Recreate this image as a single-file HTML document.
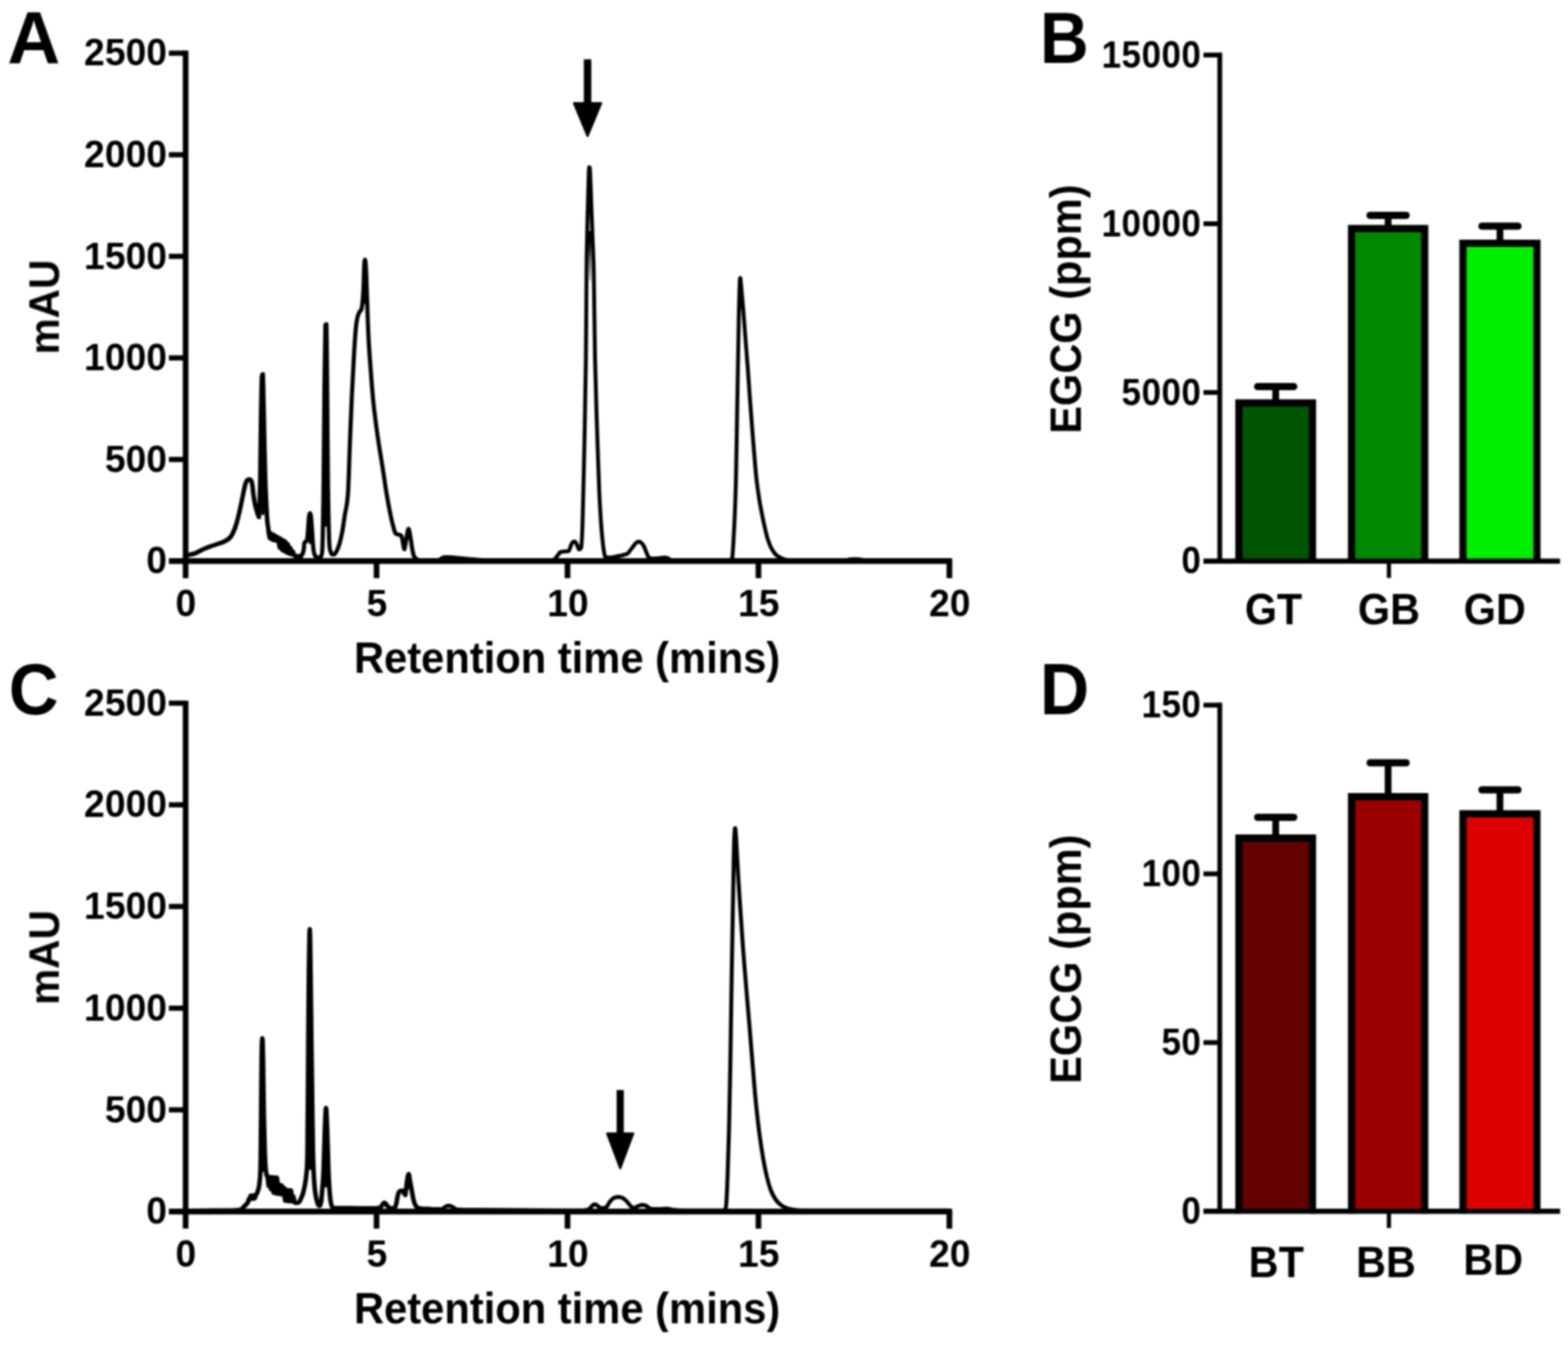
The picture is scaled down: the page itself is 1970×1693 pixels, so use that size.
<!DOCTYPE html>
<html lang="en">
<head>
<meta charset="utf-8">
<title>HPLC chromatograms and EGCG content</title>
<style>
html,body{margin:0;padding:0;background:#fff;}
body{width:1970px;height:1693px;overflow:hidden;}
svg{display:block;}
svg text{font-family:"Liberation Sans", Arial, Helvetica, sans-serif;font-weight:bold;fill:#000;}
</style>
</head>
<body>
<svg width="1970" height="1693" viewBox="0 0 1970 1693">
<defs>
<filter id="soft" x="0" y="0" width="1970" height="1693" filterUnits="userSpaceOnUse" color-interpolation-filters="sRGB">
<feGaussianBlur stdDeviation="1.0"/>
</filter>
</defs>
<rect width="1970" height="1693" fill="#fff"/>
<g filter="url(#soft)">
<g id="panel-A">
<path d="M234.0 697.5 C235.8 697.1 241.5 696.2 245.0 695.0 C248.5 693.8 251.2 691.7 255.0 690.0 C258.8 688.3 263.5 686.7 268.0 685.0 C272.5 683.3 278.3 681.8 282.0 680.0 C285.7 678.2 287.7 677.2 290.0 674.0 C292.3 670.8 294.2 666.3 296.0 661.0 C297.8 655.7 299.5 648.3 301.0 642.0 C302.5 635.7 303.8 628.5 305.0 623.0 C306.2 617.5 307.1 612.3 308.0 609.0 C308.9 605.7 309.6 604.2 310.5 603.0 C311.4 602.0 312.5 602.0 313.5 602.0 C314.5 602.5 315.7 602.7 316.5 606.0 C317.3 609.3 317.8 617.3 318.5 622.0 C319.2 626.7 319.8 630.5 320.5 634.0 C321.2 637.5 322.2 640.4 323.0 643.0 C323.8 645.6 324.6 649.5 325.3 649.5 C326.0 642.3 326.6 621.6 327.0 600.0 C327.4 578.4 327.6 541.2 328.0 520.0 C328.4 498.8 328.7 480.8 329.1 472.5 C329.5 470.0 329.8 470.0 330.2 470.0 C330.6 477.9 330.9 498.3 331.4 520.0 C331.9 541.7 332.5 578.3 333.2 600.0 C333.9 621.7 334.9 639.5 335.5 650.0 C336.1 660.5 336.7 660.0 337.0 663.0 C337.3 666.0 337.2 665.7 337.5 667.9 C337.8 670.1 338.5 675.7 339.0 676.0 C339.5 676.0 340.0 669.8 340.5 669.8 C341.0 670.1 341.6 677.6 342.1 677.9 C342.6 677.9 343.1 671.5 343.6 671.5 C344.1 671.6 344.6 678.3 345.1 678.6 C345.6 678.6 346.1 673.2 346.6 673.2 C347.1 673.3 347.7 679.0 348.2 679.3 C348.7 679.3 349.2 675.0 349.7 675.0 C350.2 676.4 350.7 687.3 351.2 687.6 C351.7 687.6 352.2 676.7 352.7 676.7 C353.2 677.2 353.8 690.4 354.3 690.7 C354.8 690.7 355.3 678.6 355.8 678.6 C356.3 678.9 356.8 692.1 357.3 692.4 C357.8 692.4 358.3 680.4 358.8 680.4 C359.3 680.6 359.9 693.4 360.4 693.9 C360.9 693.9 361.4 683.6 361.9 683.6 C362.4 683.8 362.9 694.4 363.4 695.1 C363.9 695.1 364.4 688.0 364.9 688.0 C365.4 688.2 366.0 695.5 366.5 696.2 C367.0 696.2 367.5 692.5 368.0 692.5 C368.5 692.7 368.8 696.2 369.5 697.2 C370.2 698.2 370.6 698.3 372.0 698.5 C373.4 698.5 377.0 698.5 378.0 698.5" fill="none" stroke="#000" stroke-width="5.6" stroke-linejoin="round" stroke-linecap="round"/>
<path d="M372.0 698.5 C373.0 698.5 376.4 698.5 378.0 698.5 C379.6 697.4 380.6 694.8 381.3 692.0 C382.1 689.2 381.8 683.7 382.5 681.5 C383.2 679.3 384.8 681.2 385.5 679.0 C386.2 676.8 386.3 673.2 386.8 668.0 C387.3 662.8 387.9 651.9 388.3 648.0 C388.8 644.5 389.1 644.5 389.5 644.5 C389.9 644.5 390.2 644.5 390.7 648.0 C391.1 651.9 391.7 661.0 392.2 668.0 C392.7 675.0 393.2 684.9 393.8 690.0 C394.4 695.1 395.1 696.8 396.0 698.5 C396.9 700.0 397.9 699.8 399.0 700.0 C400.1 700.0 401.5 700.0 402.5 700.0 C403.5 698.3 404.3 700.0 405.0 690.0 C405.7 673.3 406.2 635.0 406.6 600.0 C407.1 565.0 407.3 512.0 407.7 480.0 C408.1 448.0 408.4 420.2 408.8 408.0 C409.2 407.0 409.7 407.0 410.1 407.0 C410.5 419.0 410.7 447.8 411.0 480.0 C411.3 512.2 411.6 566.7 412.0 600.0 C412.4 633.3 413.0 664.3 413.6 680.0 C414.2 694.0 415.1 691.2 415.8 694.0 C416.5 696.5 417.2 696.2 418.0 696.5 C418.8 696.5 419.6 696.5 420.5 696.0 C421.4 695.1 422.5 693.2 423.5 691.0 C424.5 688.8 425.4 686.8 426.5 683.0 C427.6 679.2 428.9 674.0 430.0 668.0 C431.1 662.0 432.0 654.6 433.2 647.0 C434.4 639.4 435.9 637.0 437.0 622.5 C438.1 608.0 438.7 580.7 439.5 560.0 C440.3 539.3 441.2 516.8 442.0 498.5 C442.8 480.2 443.7 464.2 444.5 450.0 C445.3 435.8 446.2 421.5 447.0 413.0 C447.8 404.5 448.2 402.5 449.0 399.0 C449.8 395.5 450.6 394.0 451.5 392.0 C452.4 390.0 453.7 391.3 454.5 387.0 C455.3 382.7 456.0 374.3 456.5 366.0 C457.0 357.7 457.2 343.7 457.5 337.0 C457.8 330.3 458.1 326.0 458.5 326.0 C458.9 326.0 459.4 329.7 459.8 337.0 C460.2 344.3 460.5 355.5 461.0 370.0 C461.5 384.5 462.2 407.7 463.0 424.0 C463.8 440.3 465.0 454.3 466.0 468.0 C467.0 481.7 467.8 492.7 469.2 506.0 C470.6 519.3 472.6 534.7 474.5 548.0 C476.4 561.3 478.6 574.0 480.5 586.0 C482.4 598.0 484.0 609.8 485.7 620.0 C487.4 630.2 489.4 640.5 490.8 647.5 C492.2 654.5 493.3 658.2 494.3 662.0 C495.3 665.8 495.9 668.4 497.0 670.0 C498.1 671.5 499.8 670.9 501.0 671.5 C502.2 672.1 503.6 671.6 504.5 673.5 C505.4 675.4 505.9 680.2 506.5 683.0 C507.1 685.8 507.3 690.0 508.0 690.0 C508.7 689.0 509.6 681.3 510.5 677.0 C511.4 672.7 512.4 664.0 513.3 664.0 C514.2 664.0 515.2 672.7 516.0 677.0 C516.8 681.3 517.3 686.3 518.0 690.0 C518.7 693.7 519.3 696.9 520.3 699.0 C521.3 701.1 522.6 701.6 524.0 702.5 C525.4 703.4 525.8 704.0 528.5 704.3 C531.2 704.3 538.1 704.3 540.0 704.3" fill="none" stroke="#000" stroke-width="5.2" stroke-linejoin="round" stroke-linecap="round"/>
<path d="M528.5 704.3 C530.4 704.3 536.4 704.3 540.0 704.3 C543.6 704.3 547.8 704.3 550.0 704.3 C552.2 704.0 552.0 703.1 553.0 702.5 C554.0 701.9 554.7 701.0 556.0 700.5 C557.3 700.0 559.0 699.8 561.0 699.7 C563.0 699.7 564.8 699.7 568.0 700.0 C571.2 700.3 574.7 700.8 580.0 701.3 C585.3 701.8 593.3 702.5 600.0 703.0 C606.7 703.5 610.0 704.1 620.0 704.3 C630.0 704.3 648.0 704.3 660.0 704.3 C672.0 704.3 685.8 704.3 692.0 704.3 C697.0 703.9 695.5 703.2 697.0 702.0 C698.5 700.8 699.8 698.4 701.0 697.0 C702.2 695.6 702.7 694.2 704.0 693.5 C705.3 692.8 707.2 692.9 709.0 692.6 C710.8 692.4 713.1 692.6 714.5 692.0 C715.9 690.7 716.5 686.8 717.3 685.0 C718.1 683.2 718.6 681.8 719.5 681.0 C720.4 680.3 721.6 680.3 722.5 680.3 C723.4 680.9 724.2 682.9 725.0 684.5 C725.8 686.1 726.5 689.6 727.4 690.0 C728.3 690.0 729.6 690.0 730.3 687.0 C731.0 682.0 731.3 674.5 731.8 660.0 C732.3 645.5 732.8 620.0 733.3 600.0 C733.8 580.0 734.1 565.0 734.6 540.0 C735.1 515.0 735.7 482.8 736.1 450.0 C736.5 417.2 736.6 368.0 736.9 343.0 C737.1 318.0 737.3 315.5 737.6 300.0 C737.9 284.5 738.4 264.0 738.8 250.0 C739.2 236.0 739.5 222.7 739.8 216.0 C740.1 210.0 740.2 210.0 740.5 210.0 C740.8 210.0 741.0 210.0 741.4 216.0 C741.8 224.3 742.5 246.0 743.0 260.0 C743.5 274.0 744.0 286.2 744.5 300.0 C745.0 313.8 745.5 318.0 746.0 343.0 C746.5 368.0 747.0 420.5 747.6 450.0 C748.2 479.5 748.9 500.0 749.5 520.0 C750.1 540.0 750.6 553.3 751.2 570.0 C751.8 586.7 752.3 604.5 753.0 620.0 C753.7 635.5 754.8 651.8 755.6 663.0 C756.4 674.2 757.2 680.9 758.0 687.0 C758.8 693.1 759.2 697.3 760.5 699.5 C761.8 700.3 763.9 700.2 765.5 700.3 C767.1 700.3 767.8 700.2 770.0 699.8 C772.2 699.4 776.0 698.7 779.0 698.0 C782.0 697.3 785.9 696.6 788.0 695.5 C790.1 694.4 790.3 692.9 791.5 691.5 C792.7 690.1 793.8 688.6 795.0 687.0 C796.2 685.4 797.8 683.1 799.0 682.0 C800.2 680.9 801.3 680.3 802.5 680.3 C803.7 680.3 804.9 681.0 806.0 682.0 C807.1 683.0 808.0 684.1 809.0 686.0 C810.0 687.9 811.0 691.2 812.0 693.5 C813.0 695.8 813.7 698.7 815.0 700.0 C816.3 701.3 817.8 701.3 820.0 701.5 C822.2 701.5 825.5 701.2 828.0 701.0 C830.5 700.8 833.0 700.2 835.0 700.2 C837.0 700.3 838.2 700.8 840.0 701.5 C841.8 702.2 840.0 703.8 846.0 704.3 C852.7 704.3 869.0 704.3 880.0 704.3 C891.0 704.3 905.6 704.3 912.0 704.3 C918.3 704.1 916.9 703.7 918.3 703.0 C919.6 702.3 919.4 703.0 920.1 700.0 C920.9 692.0 922.0 671.1 922.8 655.0 C923.5 638.9 924.1 624.3 924.6 603.5 C925.1 582.7 925.5 553.6 925.9 530.0 C926.3 506.4 926.7 485.3 927.1 462.0 C927.5 438.7 928.0 408.0 928.4 390.0 C928.8 372.0 929.1 360.8 929.4 354.0 C929.7 349.0 929.8 349.0 930.1 349.0 C930.5 350.5 930.9 356.0 931.5 363.0 C932.1 370.0 933.1 380.3 934.0 391.0 C934.9 401.7 935.8 415.2 936.7 427.0 C937.6 438.8 938.6 450.2 939.5 462.0 C940.4 473.8 941.1 486.2 942.0 498.0 C942.9 509.8 943.7 520.7 944.6 532.5 C945.5 544.3 946.5 557.2 947.5 569.0 C948.5 580.8 949.5 593.3 950.6 603.5 C951.8 613.7 953.1 622.1 954.4 630.0 C955.7 637.9 957.2 645.0 958.4 651.0 C959.6 657.0 960.6 661.3 961.7 666.0 C962.8 670.7 963.9 675.1 965.2 679.0 C966.5 682.9 968.1 686.6 969.7 689.5 C971.3 692.4 972.9 694.7 974.7 696.5 C976.5 698.3 978.5 699.4 980.5 700.5 C982.5 701.6 983.8 702.4 987.0 703.0 C990.2 703.6 991.2 704.1 1000.0 704.3 C1008.8 704.3 1030.0 704.3 1040.0 704.3 C1050.0 704.2 1055.5 704.2 1060.0 704.0 C1064.5 703.8 1064.7 703.1 1067.0 702.8 C1069.3 702.5 1071.7 702.3 1074.0 702.3 C1076.3 702.3 1078.7 702.5 1081.0 702.8 C1083.3 703.1 1084.8 703.8 1088.0 704.0 C1091.2 704.2 1088.0 704.2 1100.0 704.3 C1117.3 704.3 1176.7 704.3 1192.0 704.3" fill="none" stroke="#000" stroke-width="4.9" stroke-linejoin="round" stroke-linecap="round"/>
<line x1="330.1" y1="476" x2="330.4" y2="645" stroke="#000" stroke-width="4" stroke-linecap="round"/>
<line x1="389.5" y1="648" x2="389.5" y2="682" stroke="#000" stroke-width="3" stroke-linecap="round"/>
<line x1="409.4" y1="411" x2="409.4" y2="660" stroke="#000" stroke-width="3" stroke-linecap="round"/>
<line x1="458.6" y1="330" x2="458.6" y2="380" stroke="#000" stroke-width="3" stroke-linecap="round"/>
<polygon points="739.6,290 742.6,290 741.6,352 741,352" fill="#000"/>
<line x1="233.2" y1="63.6" x2="233.2" y2="726.15" stroke="#000" stroke-width="7.1" stroke-linecap="butt"/>
<line x1="212.2" y1="704.65" x2="1196.25" y2="704.65" stroke="#000" stroke-width="7.1" stroke-linecap="butt"/>
<line x1="212.2" y1="577.08" x2="233.2" y2="577.08" stroke="#000" stroke-width="6.5" stroke-linecap="butt"/>
<line x1="212.2" y1="449.51" x2="233.2" y2="449.51" stroke="#000" stroke-width="6.5" stroke-linecap="butt"/>
<line x1="212.2" y1="321.94" x2="233.2" y2="321.94" stroke="#000" stroke-width="6.5" stroke-linecap="butt"/>
<line x1="212.2" y1="194.37" x2="233.2" y2="194.37" stroke="#000" stroke-width="6.5" stroke-linecap="butt"/>
<line x1="212.2" y1="66.8" x2="233.2" y2="66.8" stroke="#000" stroke-width="6.5" stroke-linecap="butt"/>
<line x1="473.1" y1="704.65" x2="473.1" y2="726.15" stroke="#000" stroke-width="7.1" stroke-linecap="butt"/>
<line x1="713" y1="704.65" x2="713" y2="726.15" stroke="#000" stroke-width="7.1" stroke-linecap="butt"/>
<line x1="952.9" y1="704.65" x2="952.9" y2="726.15" stroke="#000" stroke-width="7.1" stroke-linecap="butt"/>
<line x1="1192.8" y1="704.65" x2="1192.8" y2="726.15" stroke="#000" stroke-width="7.1" stroke-linecap="butt"/>
<text transform="translate(209.7 720.25) scale(1 1.035)" font-size="46.8" text-anchor="end">0</text>
<text transform="translate(209.7 592.68) scale(1 1.035)" font-size="46.8" text-anchor="end">500</text>
<text transform="translate(209.7 465.11) scale(1 1.035)" font-size="46.8" text-anchor="end">1000</text>
<text transform="translate(209.7 337.54) scale(1 1.035)" font-size="46.8" text-anchor="end">1500</text>
<text transform="translate(209.7 209.97) scale(1 1.035)" font-size="46.8" text-anchor="end">2000</text>
<text transform="translate(209.7 82.4) scale(1 1.035)" font-size="46.8" text-anchor="end">2500</text>
<text transform="translate(233.6 773.95) scale(1 1.035)" font-size="46.8" text-anchor="middle">0</text>
<text transform="translate(473.5 773.95) scale(1 1.035)" font-size="46.8" text-anchor="middle">5</text>
<text transform="translate(713.4 773.95) scale(1 1.035)" font-size="46.8" text-anchor="middle">10</text>
<text transform="translate(953.3 773.95) scale(1 1.035)" font-size="46.8" text-anchor="middle">15</text>
<text transform="translate(1193.2 773.95) scale(1 1.035)" font-size="46.8" text-anchor="middle">20</text>
<text transform="translate(712.5 844.65) scale(1 1.05)" font-size="52.4" text-anchor="middle">Retention time (mins)</text>
<text transform="translate(73.8 385.65) rotate(-90) scale(1 1.06)" font-size="51" text-anchor="middle">mAU</text>
<text transform="translate(9.2 79.2) scale(1.045 1.05)" font-size="88" text-anchor="start">A</text>
<rect x="733.5" y="74.5" width="9.4" height="57" fill="#000"/>
<path d="M720.95 129.5 H755.45 L738.2 171 Z" fill="#000" stroke="#000" stroke-width="2.4" stroke-linejoin="round"/>
</g>
<g id="panel-C">
<path d="M234.0 1520.8 C240.0 1520.7 259.7 1520.4 270.0 1520.3 C280.3 1520.2 290.5 1520.2 296.0 1520.0 C301.5 1519.8 301.3 1519.5 303.0 1518.8 C304.7 1518.1 305.0 1517.0 306.0 1516.0 C307.0 1515.0 308.1 1514.0 309.0 1513.0 C309.9 1512.0 310.9 1511.2 311.5 1510.0 C312.1 1508.8 312.3 1506.7 312.6 1506.0 C312.9 1505.8 313.1 1506.0 313.5 1505.8 C313.9 1505.1 314.6 1501.7 315.1 1501.7 C315.6 1501.7 316.2 1505.6 316.7 1505.6 C317.2 1505.5 317.8 1501.5 318.3 1501.4 C318.8 1501.4 319.4 1505.2 319.9 1505.2 C320.4 1505.1 320.9 1502.4 321.5 1501.0 C322.1 1499.6 322.9 1499.2 323.6 1497.0 C324.3 1494.8 325.2 1492.5 325.8 1488.0 C326.4 1483.5 326.9 1478.0 327.2 1470.0 C327.5 1462.0 327.5 1451.7 327.7 1440.0 C327.9 1428.3 327.9 1418.3 328.1 1400.0 C328.3 1381.7 328.4 1346.0 328.7 1330.0 C328.9 1314.0 329.3 1304.0 329.6 1304.0 C329.9 1304.0 330.2 1314.0 330.5 1330.0 C330.8 1346.0 331.1 1380.8 331.5 1400.0 C331.9 1419.2 332.2 1434.0 332.6 1445.0 C333.0 1456.0 333.2 1460.8 333.6 1466.0 C334.0 1471.2 334.6 1474.1 335.0 1476.0 C335.4 1477.5 335.8 1476.0 336.2 1477.5 C336.6 1479.8 337.2 1489.6 337.7 1489.7 C338.2 1489.7 338.6 1478.3 339.1 1478.3 C339.6 1478.9 340.1 1493.6 340.6 1493.6 C341.1 1493.6 341.6 1478.5 342.1 1478.5 C342.6 1479.2 343.0 1497.8 343.5 1497.8 C344.0 1497.8 344.5 1478.8 345.0 1478.8 C345.5 1479.0 346.0 1498.8 346.5 1498.8 C347.0 1498.8 347.5 1479.1 348.0 1479.1 C348.5 1479.2 348.9 1497.7 349.4 1499.2 C349.9 1499.2 350.4 1487.9 350.9 1487.9 C351.4 1488.0 351.9 1499.6 352.4 1499.7 C352.9 1499.7 353.3 1488.8 353.8 1488.8 C354.3 1488.9 354.8 1499.7 355.3 1500.2 C355.8 1500.2 356.3 1491.8 356.8 1491.8 C357.3 1493.1 357.7 1507.4 358.2 1507.9 C358.7 1507.9 359.2 1494.6 359.7 1494.6 C360.2 1494.7 360.7 1508.4 361.2 1508.4 C361.7 1508.4 362.2 1494.8 362.7 1494.8 C363.2 1494.8 363.6 1508.7 364.1 1508.7 C364.6 1508.7 365.1 1495.0 365.6 1495.0 C366.1 1495.0 366.6 1507.6 367.1 1508.9 C367.6 1508.9 368.0 1502.6 368.5 1502.6 C369.0 1502.7 369.4 1507.9 370.0 1509.3 C370.6 1510.7 371.1 1510.7 372.0 1510.8 C372.9 1510.8 374.4 1510.8 375.5 1510.0 C376.6 1508.9 377.8 1506.2 378.7 1504.0 C379.6 1501.8 380.3 1500.6 381.2 1497.0 C382.1 1493.4 383.2 1488.6 384.0 1482.6 C384.8 1476.6 385.6 1471.4 386.0 1461.0 C386.4 1450.6 386.4 1433.5 386.5 1420.0 C386.6 1406.5 386.8 1399.2 386.9 1380.0 C387.0 1360.8 387.2 1331.7 387.4 1305.0 C387.6 1278.3 387.8 1243.0 388.1 1220.0 C388.4 1197.0 388.9 1167.0 389.2 1167.0 C389.5 1167.0 389.9 1197.0 390.2 1220.0 C390.5 1243.0 390.9 1278.3 391.2 1305.0 C391.5 1331.7 391.9 1356.3 392.2 1380.0 C392.5 1403.7 392.8 1429.5 393.2 1447.0 C393.6 1464.5 394.2 1475.8 394.8 1485.0 C395.4 1494.2 395.9 1497.5 396.7 1502.0 C397.4 1506.5 398.5 1509.9 399.3 1512.0 C400.1 1514.1 400.9 1514.5 401.6 1514.5 C402.3 1513.8 403.0 1512.1 403.6 1508.0 C404.2 1503.9 404.7 1496.2 405.2 1490.0 C405.7 1483.8 406.0 1482.7 406.5 1471.0 C407.0 1459.3 407.6 1433.2 408.1 1420.0 C408.6 1406.8 409.1 1391.5 409.6 1391.5 C410.1 1391.5 410.6 1406.8 411.1 1420.0 C411.6 1433.2 412.2 1458.5 412.7 1471.0 C413.2 1483.5 413.5 1488.5 414.0 1495.0 C414.5 1501.5 415.0 1506.5 415.6 1510.0 C416.2 1513.5 416.6 1514.8 417.5 1516.0 C418.4 1517.2 419.5 1517.1 421.0 1517.3 C422.5 1517.3 421.7 1517.3 426.5 1517.3 C431.3 1517.3 442.8 1517.5 450.0 1517.5 C457.2 1517.5 465.5 1517.6 470.0 1517.6 C474.5 1517.5 475.4 1517.5 477.0 1517.0 C478.6 1516.5 478.8 1515.4 479.5 1514.5 C480.2 1513.6 480.9 1512.2 481.5 1511.5 C482.1 1510.8 482.3 1510.5 482.8 1510.5 C483.3 1510.5 483.8 1510.8 484.5 1511.5 C485.2 1512.2 486.0 1514.0 487.0 1515.0 C488.0 1516.0 489.2 1517.1 490.5 1517.5 C491.8 1517.5 493.8 1517.5 495.0 1517.5 C496.2 1516.8 496.9 1515.2 497.6 1513.0 C498.3 1510.8 498.7 1506.6 499.3 1504.0 C499.9 1501.4 500.3 1498.9 501.0 1497.5 C501.7 1496.1 502.7 1495.8 503.5 1495.5 C504.3 1495.5 505.1 1495.5 505.8 1495.5 C506.5 1496.0 506.9 1497.6 507.5 1498.5 C508.1 1499.4 508.6 1501.0 509.2 1501.0 C509.8 1498.8 510.5 1489.4 511.2 1485.0 C511.9 1480.6 512.7 1474.5 513.4 1474.5 C514.1 1474.5 514.7 1481.4 515.4 1485.0 C516.1 1488.6 516.9 1492.5 517.5 1496.0 C518.1 1499.5 518.6 1503.2 519.3 1506.0 C520.0 1508.8 520.6 1511.2 521.5 1513.0 C522.4 1514.8 523.3 1515.7 524.5 1516.5 C525.7 1517.3 525.9 1517.5 528.5 1517.8 C531.1 1518.1 535.9 1518.3 540.0 1518.5 C544.1 1518.7 550.8 1518.9 553.0 1519.0" fill="none" stroke="#000" stroke-width="5.7" stroke-linejoin="round" stroke-linecap="round"/>
<path d="M540.0 1518.5 C542.2 1518.6 550.2 1519.0 553.0 1519.0 C555.8 1518.8 555.8 1518.2 557.0 1517.5 C558.2 1516.8 559.3 1515.5 560.5 1515.0 C561.7 1514.5 562.8 1514.3 564.0 1514.3 C565.2 1514.4 566.7 1514.9 568.0 1515.5 C569.3 1516.1 570.3 1517.4 572.0 1518.0 C573.7 1518.6 573.3 1519.0 578.0 1519.3 C582.7 1519.6 589.7 1519.5 600.0 1519.6 C610.3 1519.7 623.3 1519.7 640.0 1519.8 C656.7 1519.9 685.3 1520.2 700.0 1520.3 C714.7 1520.3 722.0 1520.3 728.0 1520.3 C734.0 1520.2 734.0 1520.1 736.0 1519.8 C738.0 1519.5 738.8 1519.3 740.0 1518.5 C741.2 1517.7 742.5 1516.0 743.5 1515.0 C744.5 1514.0 745.2 1513.2 746.0 1512.8 C746.8 1512.8 747.6 1512.8 748.5 1512.8 C749.4 1513.2 750.4 1514.2 751.5 1515.0 C752.6 1515.8 753.8 1516.9 755.0 1517.3 C756.2 1517.3 757.8 1517.3 759.0 1517.3 C760.2 1517.0 761.4 1516.5 762.5 1515.3 C763.6 1514.1 764.4 1511.8 765.5 1510.3 C766.6 1508.8 768.0 1507.1 769.2 1506.0 C770.5 1504.9 771.6 1504.2 773.0 1503.8 C774.4 1503.3 775.9 1503.3 777.3 1503.3 C778.7 1503.4 780.1 1503.7 781.5 1504.3 C782.9 1504.9 784.2 1505.8 785.5 1507.0 C786.8 1508.2 788.2 1509.8 789.5 1511.3 C790.8 1512.8 792.2 1515.0 793.5 1516.0 C794.8 1517.0 796.2 1517.0 797.5 1517.0 C798.8 1516.8 800.0 1515.4 801.5 1514.8 C803.0 1514.2 805.0 1513.3 806.7 1513.2 C808.4 1513.2 810.0 1513.6 811.5 1514.3 C813.0 1515.0 814.6 1516.8 816.0 1517.5 C817.4 1518.2 817.8 1518.3 820.0 1518.5 C822.2 1518.6 826.0 1518.6 829.0 1518.6 C832.0 1518.5 835.4 1518.0 838.2 1518.0 C841.0 1518.2 842.4 1519.2 846.0 1519.6 C849.6 1520.0 854.3 1520.2 860.0 1520.3 C865.7 1520.3 872.0 1520.3 880.0 1520.3 C888.0 1520.3 902.8 1520.3 908.0 1520.3 C911.0 1520.1 910.2 1520.3 911.0 1519.0 C911.8 1517.6 912.0 1518.5 912.5 1512.0 C913.0 1505.5 913.4 1496.2 914.0 1480.0 C914.6 1463.8 915.4 1438.3 916.0 1415.0 C916.6 1391.7 917.0 1366.7 917.5 1340.0 C918.0 1313.3 918.4 1280.0 918.8 1255.0 C919.2 1230.0 919.5 1211.2 919.9 1190.0 C920.3 1168.8 920.6 1147.7 921.0 1128.0 C921.4 1108.3 921.7 1085.8 922.0 1072.0 C922.3 1058.2 922.6 1050.3 922.9 1045.0 C923.2 1040.0 923.4 1040.0 923.7 1040.0 C924.0 1041.3 924.3 1043.7 924.9 1053.0 C925.5 1062.3 926.3 1081.0 927.2 1096.0 C928.1 1111.0 929.1 1127.1 930.2 1143.0 C931.3 1158.9 932.4 1175.3 933.6 1191.5 C934.8 1207.7 936.2 1224.1 937.5 1240.0 C938.8 1255.9 940.2 1271.0 941.5 1287.0 C942.8 1303.0 944.2 1320.0 945.5 1336.0 C946.8 1352.0 948.1 1368.5 949.5 1383.0 C950.9 1397.5 952.4 1410.8 954.0 1423.0 C955.6 1435.2 957.4 1446.8 959.0 1456.0 C960.6 1465.2 961.9 1471.5 963.5 1478.0 C965.1 1484.5 966.7 1490.2 968.5 1495.0 C970.3 1499.8 972.4 1503.4 974.5 1506.5 C976.6 1509.6 978.6 1511.6 981.2 1513.5 C983.8 1515.4 986.9 1517.0 990.0 1518.0 C993.1 1519.0 995.0 1519.4 1000.0 1519.8 C1005.0 1520.2 1000.0 1520.2 1020.0 1520.3 C1052.0 1520.3 1163.3 1520.3 1192.0 1520.3" fill="none" stroke="#000" stroke-width="5" stroke-linejoin="round" stroke-linecap="round"/>
<line x1="329.6" y1="1308" x2="330.4" y2="1470" stroke="#000" stroke-width="3.5" stroke-linecap="round"/>
<line x1="389.2" y1="1171" x2="389.8" y2="1468" stroke="#000" stroke-width="3.2" stroke-linecap="round"/>
<line x1="409.6" y1="1395" x2="409.6" y2="1490" stroke="#000" stroke-width="3" stroke-linecap="round"/>
<line x1="513.4" y1="1478" x2="513.4" y2="1492" stroke="#000" stroke-width="3" stroke-linecap="round"/>
<line x1="233.2" y1="879.9" x2="233.2" y2="1543.1" stroke="#000" stroke-width="7.1" stroke-linecap="butt"/>
<line x1="212.2" y1="1521.6" x2="1196.25" y2="1521.6" stroke="#000" stroke-width="7.1" stroke-linecap="butt"/>
<line x1="212.2" y1="1393.9" x2="233.2" y2="1393.9" stroke="#000" stroke-width="6.5" stroke-linecap="butt"/>
<line x1="212.2" y1="1266.2" x2="233.2" y2="1266.2" stroke="#000" stroke-width="6.5" stroke-linecap="butt"/>
<line x1="212.2" y1="1138.5" x2="233.2" y2="1138.5" stroke="#000" stroke-width="6.5" stroke-linecap="butt"/>
<line x1="212.2" y1="1010.8" x2="233.2" y2="1010.8" stroke="#000" stroke-width="6.5" stroke-linecap="butt"/>
<line x1="212.2" y1="883.1" x2="233.2" y2="883.1" stroke="#000" stroke-width="6.5" stroke-linecap="butt"/>
<line x1="473.1" y1="1521.6" x2="473.1" y2="1543.1" stroke="#000" stroke-width="7.1" stroke-linecap="butt"/>
<line x1="713" y1="1521.6" x2="713" y2="1543.1" stroke="#000" stroke-width="7.1" stroke-linecap="butt"/>
<line x1="952.9" y1="1521.6" x2="952.9" y2="1543.1" stroke="#000" stroke-width="7.1" stroke-linecap="butt"/>
<line x1="1192.8" y1="1521.6" x2="1192.8" y2="1543.1" stroke="#000" stroke-width="7.1" stroke-linecap="butt"/>
<text transform="translate(209.7 1537.2) scale(1 1.035)" font-size="46.8" text-anchor="end">0</text>
<text transform="translate(209.7 1409.5) scale(1 1.035)" font-size="46.8" text-anchor="end">500</text>
<text transform="translate(209.7 1281.8) scale(1 1.035)" font-size="46.8" text-anchor="end">1000</text>
<text transform="translate(209.7 1154.1) scale(1 1.035)" font-size="46.8" text-anchor="end">1500</text>
<text transform="translate(209.7 1026.4) scale(1 1.035)" font-size="46.8" text-anchor="end">2000</text>
<text transform="translate(209.7 898.7) scale(1 1.035)" font-size="46.8" text-anchor="end">2500</text>
<text transform="translate(233.6 1590.9) scale(1 1.035)" font-size="46.8" text-anchor="middle">0</text>
<text transform="translate(473.5 1590.9) scale(1 1.035)" font-size="46.8" text-anchor="middle">5</text>
<text transform="translate(713.4 1590.9) scale(1 1.035)" font-size="46.8" text-anchor="middle">10</text>
<text transform="translate(953.3 1590.9) scale(1 1.035)" font-size="46.8" text-anchor="middle">15</text>
<text transform="translate(1193.2 1590.9) scale(1 1.035)" font-size="46.8" text-anchor="middle">20</text>
<text transform="translate(712.5 1661.6) scale(1 1.05)" font-size="52.4" text-anchor="middle">Retention time (mins)</text>
<text transform="translate(73.8 1202.6) rotate(-90) scale(1 1.06)" font-size="51" text-anchor="middle">mAU</text>
<text transform="translate(11 896.5) scale(0.985 1.04)" font-size="88" text-anchor="start">C</text>
<rect x="774.7" y="1369" width="9" height="56.5" fill="#000"/>
<path d="M762.7 1423.5 H795.7 L779.2 1467.5 Z" fill="#000" stroke="#000" stroke-width="2.4" stroke-linejoin="round"/>
</g>
<g id="panel-B">
<line x1="1602.75" y1="485.5" x2="1602.75" y2="506" stroke="#000" stroke-width="8.5" stroke-linecap="butt"/>
<line x1="1580.05" y1="485.5" x2="1625.45" y2="485.5" stroke="#000" stroke-width="9" stroke-linecap="round"/>
<rect x="1556.5" y="506" width="92.5" height="198.8" fill="#005500"/>
<path d="M1556.5 707.8 V506 H1649 V707.8" fill="none" stroke="#000" stroke-width="9" stroke-linejoin="miter"/>
<line x1="1744" y1="270.5" x2="1744" y2="287" stroke="#000" stroke-width="8.5" stroke-linecap="butt"/>
<line x1="1721.3" y1="270.5" x2="1766.7" y2="270.5" stroke="#000" stroke-width="9" stroke-linecap="round"/>
<rect x="1698" y="287" width="92" height="417.8" fill="#008800"/>
<path d="M1698 707.8 V287 H1790 V707.8" fill="none" stroke="#000" stroke-width="9" stroke-linejoin="miter"/>
<line x1="1884.5" y1="284" x2="1884.5" y2="305.5" stroke="#000" stroke-width="8.5" stroke-linecap="butt"/>
<line x1="1861.8" y1="284" x2="1907.2" y2="284" stroke="#000" stroke-width="9" stroke-linecap="round"/>
<rect x="1838" y="305.5" width="93" height="399.3" fill="#00ee00"/>
<path d="M1838 707.8 V305.5 H1931 V707.8" fill="none" stroke="#000" stroke-width="9" stroke-linejoin="miter"/>
<line x1="1532.5" y1="66.1" x2="1532.5" y2="704.8" stroke="#000" stroke-width="6" stroke-linecap="butt"/>
<line x1="1512" y1="704.8" x2="1960" y2="704.8" stroke="#000" stroke-width="6.5" stroke-linecap="butt"/>
<line x1="1512" y1="492.9" x2="1532.5" y2="492.9" stroke="#000" stroke-width="6" stroke-linecap="butt"/>
<line x1="1512" y1="281" x2="1532.5" y2="281" stroke="#000" stroke-width="6" stroke-linecap="butt"/>
<line x1="1512" y1="69.1" x2="1532.5" y2="69.1" stroke="#000" stroke-width="6" stroke-linecap="butt"/>
<line x1="1745" y1="704.8" x2="1745" y2="725.8" stroke="#000" stroke-width="5.2" stroke-linecap="butt"/>
<text transform="translate(1509.4 720.4) scale(0.975 1.065)" font-size="45.2" text-anchor="end" style="letter-spacing:0.6px">0</text>
<text transform="translate(1509.4 508.5) scale(0.975 1.065)" font-size="45.2" text-anchor="end" style="letter-spacing:0.6px">5000</text>
<text transform="translate(1509.4 296.6) scale(0.975 1.065)" font-size="45.2" text-anchor="end" style="letter-spacing:0.6px">10000</text>
<text transform="translate(1509.4 84.7) scale(0.975 1.065)" font-size="45.2" text-anchor="end" style="letter-spacing:0.6px">15000</text>
<text transform="translate(1600 784.3) scale(1 1.05)" font-size="52" text-anchor="middle">GT</text>
<text transform="translate(1745 784.3) scale(1 1.05)" font-size="52" text-anchor="middle">GB</text>
<text transform="translate(1878 784.3) scale(1 1.05)" font-size="52" text-anchor="middle">GD</text>
<text transform="translate(1358 388.2) rotate(-90) scale(1 1.05)" font-size="52.2" text-anchor="middle">EGCG (ppm)</text>
<text transform="translate(1306.5 78.8) scale(0.965 1.04)" font-size="88" text-anchor="start">B</text>
</g>
<g id="panel-D">
<line x1="1602.75" y1="1026.5" x2="1602.75" y2="1052.5" stroke="#000" stroke-width="8.5" stroke-linecap="butt"/>
<line x1="1580.05" y1="1026.5" x2="1625.45" y2="1026.5" stroke="#000" stroke-width="9" stroke-linecap="round"/>
<rect x="1556.5" y="1052.5" width="92.5" height="468.8" fill="#630000"/>
<path d="M1556.5 1524.3 V1052.5 H1649 V1524.3" fill="none" stroke="#000" stroke-width="9" stroke-linejoin="miter"/>
<line x1="1744" y1="958" x2="1744" y2="1000.5" stroke="#000" stroke-width="8.5" stroke-linecap="butt"/>
<line x1="1721.3" y1="958" x2="1766.7" y2="958" stroke="#000" stroke-width="9" stroke-linecap="round"/>
<rect x="1698" y="1000.5" width="92" height="520.8" fill="#9b0000"/>
<path d="M1698 1524.3 V1000.5 H1790 V1524.3" fill="none" stroke="#000" stroke-width="9" stroke-linejoin="miter"/>
<line x1="1884.5" y1="992" x2="1884.5" y2="1022" stroke="#000" stroke-width="8.5" stroke-linecap="butt"/>
<line x1="1861.8" y1="992" x2="1907.2" y2="992" stroke="#000" stroke-width="9" stroke-linecap="round"/>
<rect x="1838" y="1022" width="93" height="499.3" fill="#dd0000"/>
<path d="M1838 1524.3 V1022 H1931 V1524.3" fill="none" stroke="#000" stroke-width="9" stroke-linejoin="miter"/>
<line x1="1532.5" y1="882.6" x2="1532.5" y2="1521.3" stroke="#000" stroke-width="6" stroke-linecap="butt"/>
<line x1="1512" y1="1521.3" x2="1960" y2="1521.3" stroke="#000" stroke-width="6.5" stroke-linecap="butt"/>
<line x1="1512" y1="1309.4" x2="1532.5" y2="1309.4" stroke="#000" stroke-width="6" stroke-linecap="butt"/>
<line x1="1512" y1="1097.5" x2="1532.5" y2="1097.5" stroke="#000" stroke-width="6" stroke-linecap="butt"/>
<line x1="1512" y1="885.6" x2="1532.5" y2="885.6" stroke="#000" stroke-width="6" stroke-linecap="butt"/>
<line x1="1745" y1="1521.3" x2="1745" y2="1542.3" stroke="#000" stroke-width="5.2" stroke-linecap="butt"/>
<text transform="translate(1509.4 1536.9) scale(0.975 1.065)" font-size="45.2" text-anchor="end" style="letter-spacing:0.6px">0</text>
<text transform="translate(1509.4 1325) scale(0.975 1.065)" font-size="45.2" text-anchor="end" style="letter-spacing:0.6px">50</text>
<text transform="translate(1509.4 1113.1) scale(0.975 1.065)" font-size="45.2" text-anchor="end" style="letter-spacing:0.6px">100</text>
<text transform="translate(1509.4 901.2) scale(0.975 1.065)" font-size="45.2" text-anchor="end" style="letter-spacing:0.6px">150</text>
<text transform="translate(1603.5 1604.3) scale(1 1.05)" font-size="52" text-anchor="middle">BT</text>
<text transform="translate(1741.2 1604.3) scale(1 1.05)" font-size="52" text-anchor="middle">BB</text>
<text transform="translate(1876 1600.8) scale(1 1.05)" font-size="52" text-anchor="middle">BD</text>
<text transform="translate(1358 1204.7) rotate(-90) scale(1 1.05)" font-size="52.2" text-anchor="middle">EGCG (ppm)</text>
<text transform="translate(1306.5 896.5) scale(0.975 1.04)" font-size="88" text-anchor="start">D</text>
</g>
</g>
</svg>
</body>
</html>
